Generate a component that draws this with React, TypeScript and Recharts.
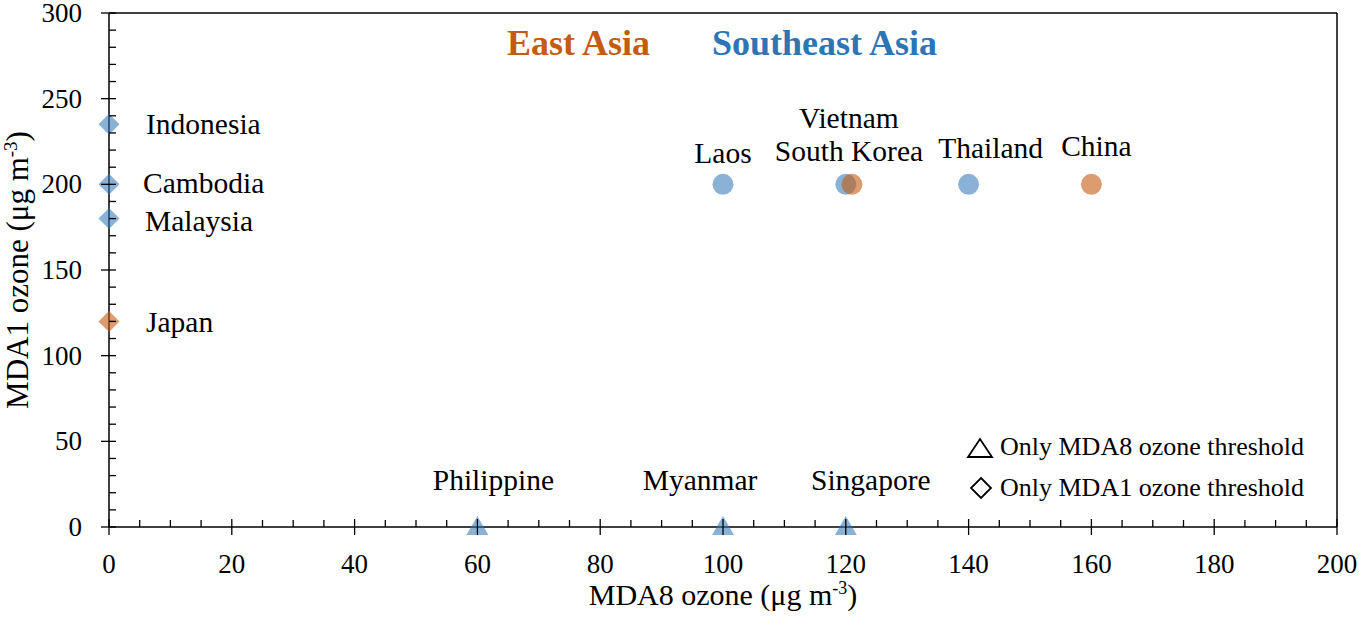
import { ScatterChart, Scatter, XAxis, YAxis, ReferenceLine, Label } from "recharts"

const countries = ["Japan", "South Korea", "China", "Indonesia", "Cambodia", "Malaysia", "Laos", "Vietnam", "Thailand", "Philippine", "Myanmar", "Singapore"]
const regions = ["east", "east", "east", "sea", "sea", "sea", "sea", "sea", "sea", "sea", "sea", "sea"]
const mda8Values = [0, 121, 160, 0, 0, 0, 100, 120, 140, 60, 100, 120]
const mda1Values = [120, 200, 200, 235, 200, 180, 200, 200, 200, 0, 0, 0]
const markerKinds = ["diamond", "circle", "circle", "diamond", "diamond", "diamond", "circle", "circle", "circle", "triangle", "triangle", "triangle"]

const xTicks = Array.from({ length: 41 }, (_, i) => i * 5)
const yTicks = Array.from({ length: 31 }, (_, i) => i * 10)

// where each country's name sits relative to its marker
const labelPlace: Record<string, { dx: number; dy: number; anchor: "start" | "middle" }> = {
  Japan: { dx: 37, dy: 11, anchor: "start" },
  Indonesia: { dx: 37, dy: 10, anchor: "start" },
  Cambodia: { dx: 34, dy: 9, anchor: "start" },
  Malaysia: { dx: 36, dy: 12, anchor: "start" },
  Laos: { dx: 0, dy: -21, anchor: "middle" },
  Vietnam: { dx: 3, dy: -56, anchor: "middle" },
  "South Korea": { dx: -3, dy: -23, anchor: "middle" },
  Thailand: { dx: 22, dy: -26, anchor: "middle" },
  China: { dx: 5, dy: -28, anchor: "middle" },
  Philippine: { dx: 16, dy: -37, anchor: "middle" },
  Myanmar: { dx: -23, dy: -37, anchor: "middle" },
  Singapore: { dx: 25, dy: -37, anchor: "middle" },
}

const points = countries.map((name, i) => ({
  name,
  region: regions[i],
  marker: markerKinds[i],
  x: mda8Values[i],
  y: mda1Values[i],
}))
const eastPoints = points.filter((p) => p.region === "east")
const seaPoints = points.filter((p) => p.region === "sea")

const FONT = "Liberation Serif, Tinos, Times New Roman, DejaVu Serif, serif"
const ORANGE = "#C55A11"
const BLUE = "#2E75B6"
const txt = { fontFamily: FONT }

function makeShape(color: string, opacity: number) {
  return (props: any) => {
    const { cx, cy, payload } = props
    const place = labelPlace[payload.name]
    let mark
    if (payload.marker === "circle") {
      mark = <circle cx={cx} cy={cy} r={10.5} fill={color} fillOpacity={opacity} />
    } else if (payload.marker === "diamond") {
      mark = <polygon points={`${cx},${cy - 10.5} ${cx + 10.5},${cy} ${cx},${cy + 10.5} ${cx - 10.5},${cy}`} fill={color} fillOpacity={opacity} />
    } else {
      mark = <polygon points={`${cx},${cy - 11} ${cx + 11},${cy + 8} ${cx - 11},${cy + 8}`} fill={color} fillOpacity={opacity} />
    }
    return (
      <g>
        {mark}
        <text x={cx + place.dx} y={cy + place.dy} textAnchor={place.anchor} style={txt} fontSize={29.5} fill="#000">
          {payload.name}
        </text>
      </g>
    )
  }
}

function XTick(props: any) {
  const { x, y, payload } = props
  const major = payload.value % 20 === 0
  return (
    <g>
      <line x1={x} x2={x} y1={y - (major ? 8 : 7)} y2={y + (major ? 8 : 0)} stroke="#000" strokeWidth={1.3} />
      {major && (
        <text x={x} y={y + 46} textAnchor="middle" style={txt} fontSize={27} fill="#000">
          {payload.value}
        </text>
      )}
    </g>
  )
}

function YTick(props: any) {
  const { x, y, payload } = props
  const major = payload.value % 50 === 0
  return (
    <g>
      <line x1={x - (major ? 8 : 0)} x2={x + 7} y1={y} y2={y} stroke="#000" strokeWidth={1.3} />
      {major && (
        <text x={x - 27} y={y + 9} textAnchor="end" style={txt} fontSize={27} fill="#000">
          {payload.value}
        </text>
      )}
    </g>
  )
}

function XTitle(props: any) {
  const { viewBox } = props
  const cx = viewBox.x + viewBox.width / 2
  return (
    <text x={cx} y={605} textAnchor="middle" style={txt} fontSize={30} fill="#000">
      MDA8 ozone (μg m<tspan dy={-11} fontSize={18}>-3</tspan>
      <tspan dy={11}>)</tspan>
    </text>
  )
}

function YTitle(props: any) {
  const { viewBox } = props
  const cy = viewBox.y + viewBox.height / 2
  return (
    <text x={0} y={0} transform={`translate(28, ${cy}) rotate(-90)`} textAnchor="middle" style={txt} fontSize={31} fill="#000">
      MDA1 ozone (μg m<tspan dy={-11} fontSize={19}>-3</tspan>
      <tspan dy={11}>)</tspan>
    </text>
  )
}

export default function App() {
  return (
    <div style={{ position: "relative", width: 1359, height: 618, background: "#fff", fontFamily: FONT }}>
      <style>{`body{margin:0}`}</style>
      <ScatterChart width={1359} height={618} margin={{ top: 13, right: 22, bottom: 0, left: 0 }}>
        <XAxis
          type="number"
          dataKey="x"
          domain={[0, 200]}
          ticks={xTicks}
          interval={0}
          tickSize={0}
          tickMargin={0}
          tickLine={false}
          tick={<XTick />}
          height={91}
          stroke="#000"
          strokeWidth={1.5}
        >
          <Label content={<XTitle />} />
        </XAxis>
        <YAxis
          type="number"
          dataKey="y"
          domain={[0, 300]}
          ticks={yTicks}
          interval={0}
          tickSize={0}
          tickMargin={0}
          tickLine={false}
          tick={<YTick />}
          width={109}
          stroke="#000"
          strokeWidth={1.5}
        >
          <Label content={<YTitle />} />
        </YAxis>
        <ReferenceLine y={300} stroke="#000" strokeWidth={1.5} />
        <ReferenceLine x={200} stroke="#000" strokeWidth={1.5} />
        <Scatter data={seaPoints} shape={makeShape(BLUE, 0.56)} isAnimationActive={false} />
        <Scatter data={eastPoints} shape={makeShape(ORANGE, 0.6)} isAnimationActive={false} />
      </ScatterChart>

      {/* region titles and marker legend */}
      <svg width={1359} height={618} style={{ position: "absolute", left: 0, top: 0, pointerEvents: "none" }}>
        <text x={507} y={55} style={txt} fontWeight="bold" fontSize={36} fill={ORANGE}>East Asia</text>
        <text x={712} y={55} style={txt} fontWeight="bold" fontSize={36} fill={BLUE}>Southeast Asia</text>
        <polygon points="980,439 992,457 968,457" fill="none" stroke="#000" strokeWidth={1.8} />
        <text x={1000} y={455} style={txt} fontSize={26} fill="#000">Only MDA8 ozone threshold</text>
        <polygon points="981,478 991,488 981,498 971,488" fill="none" stroke="#000" strokeWidth={1.8} />
        <text x={1000} y={496} style={txt} fontSize={26} fill="#000">Only MDA1 ozone threshold</text>
      </svg>
    </div>
  )
}
